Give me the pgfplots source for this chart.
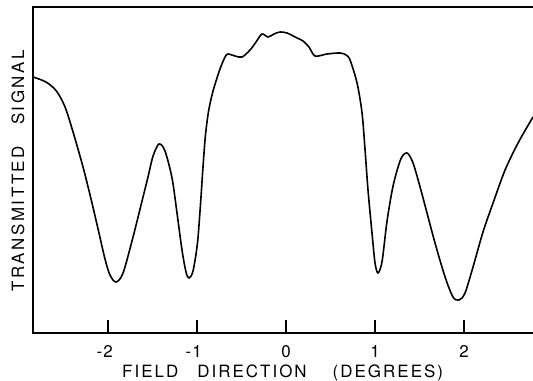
\documentclass[border=0pt]{standalone}
\usepackage{fontspec}
\setmainfont{TeX Gyre Heros}
\usepackage{pgfplots}
\pgfplotsset{compat=1.18}
\newfontfamily\lab[LetterSpace=12]{TeX Gyre Heros}
\newfontfamily\ylab[LetterSpace=15]{TeX Gyre Heros}
\begin{document}
\begin{tikzpicture}
\begin{axis}[
  scale only axis, width=500bp, height=326bp,
  at={(0,0)}, anchor=south west,
  xmin=-2.843, xmax=2.775, ymin=0, ymax=326,
  axis line style={draw=none},
  xtick={-2,-1,0,1,2}, xticklabels={\llap{-\kern1bp}2,\llap{-\kern1bp}1,0,1,2},
  xtick pos=bottom, tick align=inside, major tick length=13bp,
  every tick/.style={black, line width=1.3bp},
  ytick=\empty,
  xticklabel style={font=\fontsize{17}{20}\selectfont, anchor=base, yshift=-24bp},
  clip=false,
]
\addplot[black, line width=1.6bp, smooth, tension=0.5] coordinates {
(-2.843,256) (-2.697,251) (-2.580,242) (-2.483,226) (-2.393,201) (-2.281,166)
(-2.191,134) (-2.112,104) (-2.034,74) (-1.978,58) (-1.910,51) (-1.831,60)
(-1.719,96) (-1.629,128) (-1.551,156) (-1.494,177) (-1.427,189) (-1.360,182)
(-1.281,155) (-1.225,120) (-1.169,83) (-1.124,61) (-1.090,55) (-1.045,62)
(-0.995,90) (-0.960,130) (-0.933,166) (-0.905,198) (-0.870,222) (-0.820,242)
(-0.742,264) (-0.685,276) (-0.652,279) (-0.573,277) (-0.494,276) (-0.404,283)
(-0.337,291) (-0.270,299) (-0.202,296) (-0.135,299) (-0.067,301) (0.011,300)
(0.124,295) (0.191,292) (0.258,286) (0.326,277) (0.461,279) (0.607,280)
(0.674,278) (0.719,273) (0.798,250) (0.854,220) (0.888,183) (0.921,143)
(0.966,100) (1.000,70) (1.034,60) (1.080,72) (1.135,112) (1.205,148)
(1.290,174) (1.360,180) (1.427,170) (1.506,146) (1.584,120) (1.674,90)
(1.787,56) (1.876,36) (1.944,33) (2.011,40) (2.101,66) (2.213,101)
(2.326,130) (2.461,163) (2.607,190) (2.775,216)
};
\draw[black, line width=1.6bp] (rel axis cs:1,1) -- (rel axis cs:0,1) -- (rel axis cs:0,0) -- (rel axis cs:1,0);
\end{axis}
\node[anchor=base west, inner sep=0pt, font=\fontsize{17}{20}\selectfont\lab] at (89bp,-44bp) {FIELD\hspace{19bp}DIRECTION\hspace{26bp}(DEGREES)};
\node[anchor=base west, inner sep=0pt, rotate=90, font=\fontsize{17}{20}\selectfont\ylab] at (-9bp,41bp) {TRANSMITTED\hspace{21bp}SIGNAL};
\pgfresetboundingbox
\path (-33bp,-48bp) rectangle (500bp,333bp);
\end{tikzpicture}
\end{document}
